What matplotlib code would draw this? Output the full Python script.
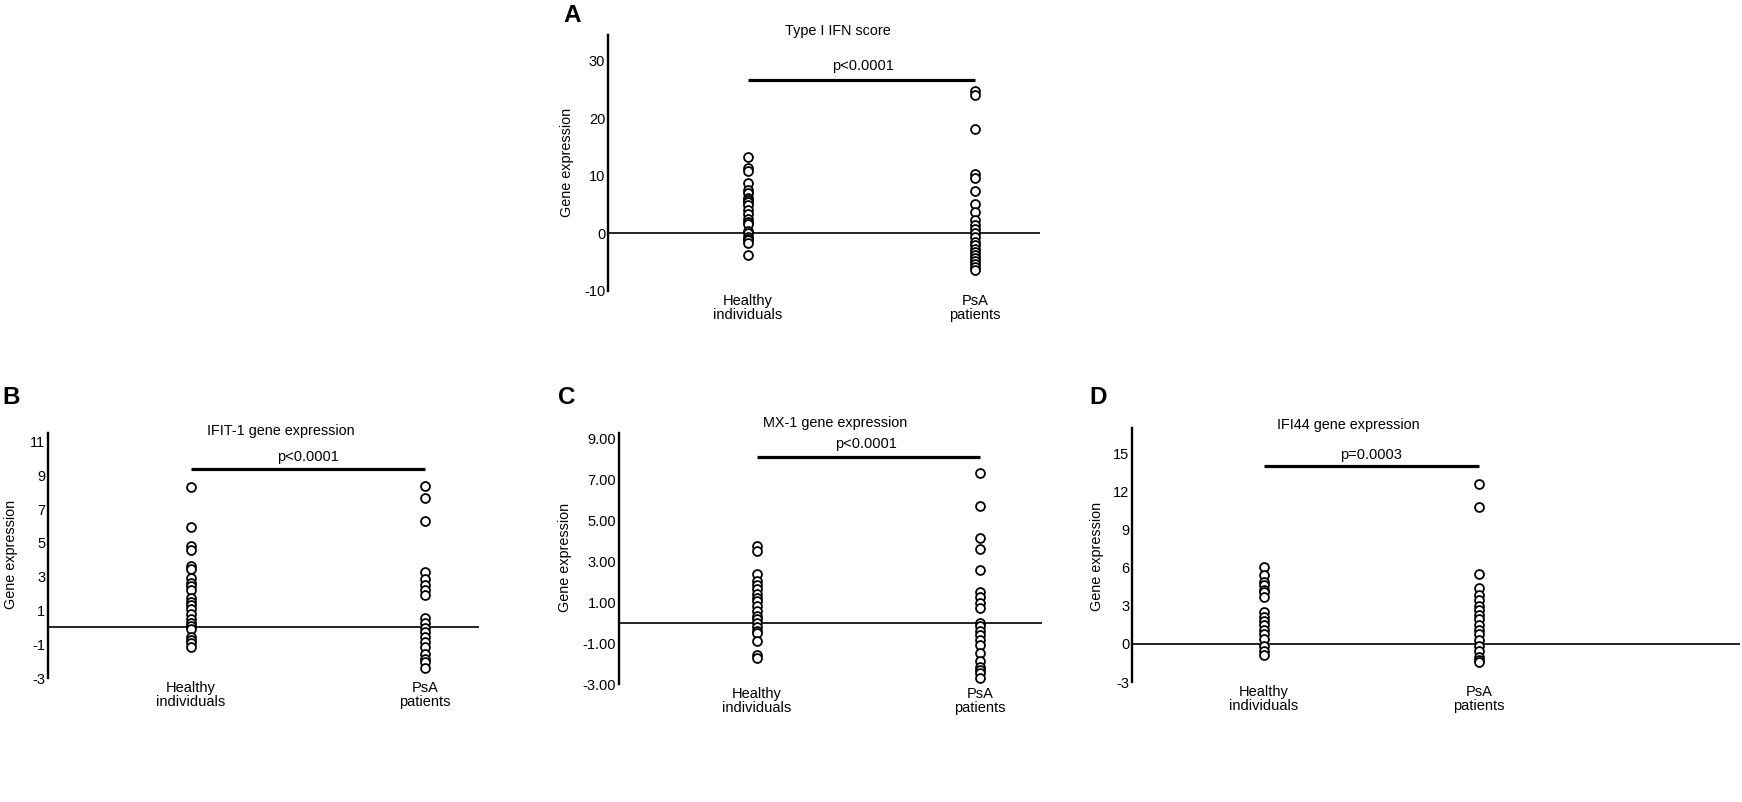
import matplotlib
matplotlib.use("Agg")
import matplotlib.pyplot as plt

plt.rcParams['font.family'] = ['Liberation Sans', 'DejaVu Sans']

W, H = 1742, 802

# Data
groups = ["Healthy\nindividuals", "PsA\npatients"]

a_healthy = [13.3, 11.4, 10.9, 8.8, 7.5, 7.0, 6.2, 5.8, 5.4, 4.9, 4.1, 3.3, 2.5, 2.0,
             1.7, 0.5, 0.0, -0.6, -0.9, -1.2, -1.7, -3.8]
a_psa = [24.8, 24.0, 18.2, 10.4, 9.7, 7.3, 5.1, 3.8, 2.3, 1.5, 0.7, 0.0, -0.6, -1.4,
         -2.0, -2.7, -3.2, -3.8, -4.3, -4.8, -5.3, -5.9, -6.4]

b_healthy = [8.33, 5.93, 4.8, 4.55, 3.6, 3.43, 2.9, 2.63, 2.45, 2.19, 1.74, 1.48, 1.3,
             1.07, 0.77, 0.5, 0.28, 0.05, -0.12, -0.57, -0.75, -0.93, -1.16]
b_psa = [8.38, 7.65, 6.32, 3.29, 2.85, 2.49, 2.19, 1.89, 0.53, 0.23, -0.04, -0.3, -0.57,
         -0.89, -1.19, -1.55, -1.9, -2.08, -2.38]

c_healthy = [3.72, 3.47, 2.36, 2.04, 1.85, 1.63, 1.41, 1.22, 1.04, 0.82, 0.57, 0.31, 0.16,
             -0.01, -0.2, -0.4, -0.5, -0.91, -1.57, -1.75]
c_psa = [7.31, 5.7, 4.11, 3.61, 2.54, 1.51, 1.26, 0.97, 0.70, -0.03, -0.18, -0.40, -0.62,
         -0.84, -1.09, -1.50, -1.86, -2.16, -2.31, -2.45, -2.70]

d_healthy = [6.04, 5.45, 4.9, 4.67, 4.24, 4.08, 3.72, 2.54, 2.11, 1.82, 1.47, 1.11, 0.76,
             0.40, -0.19, -0.55, -0.9]
d_psa = [12.6, 10.78, 5.5, 4.43, 3.84, 3.48, 3.0, 2.65, 2.3, 1.94, 1.47, 1.11, 0.76, 0.28,
         -0.19, -0.59, -1.02, -1.26, -1.45]

titles = ["Type I IFN score", "IFIT-1 gene expression", "MX-1 gene expression",
          "IFI44 gene expression"]
pvalues = ["p<0.0001", "p<0.0001", "p<0.0001", "p=0.0003"]
bar_heights = [26.6, 9.36, 8.06, 14.07]

a_ticks = [30, 20, 10, 0, -10]
b_ticks = [11, 9, 7, 5, 3, 1, -1, -3]
c_ticks = [9, 7, 5, 3, 1, -1, -3]
d_ticks = [15, 12, 9, 6, 3, 0, -3]
a_ticklabels = ["30", "20", "10", "0", "-10"]
b_ticklabels = ["11", "9", "7", "5", "3", "1", "-1", "-3"]
c_ticklabels = ["9.00", "7.00", "5.00", "3.00", "1.00", "-1.00", "-3.00"]
d_ticklabels = ["15", "12", "9", "6", "3", "0", "-3"]

fig = plt.figure(figsize=(W / 100, H / 100), dpi=100)


def px(x, y):
    return x / W, 1 - y / H


def panel(letter, rect, xlim, ylim, healthy, psa, ticks, ticklabels, title, pval, bar,
          title_xy, p_xy, letter_xy, ylab_xy):
    left, top, right, bottom = rect
    ax = fig.add_axes([left / W, 1 - bottom / H, (right - left) / W, (bottom - top) / H])
    ax.set_xlim(xlim)
    ax.set_ylim(ylim)
    for s in ["top", "right", "bottom"]:
        ax.spines[s].set_visible(False)
    ax.spines["left"].set_linewidth(1.7)
    ax.axhline(0, color="black", lw=1.2, zorder=1)

    # open circles for each group
    ax.plot([1] * len(healthy), healthy, "o", ms=6.4, mfc="white", mec="black", mew=1.3,
            zorder=3, clip_on=False)
    ax.plot([2] * len(psa), psa, "o", ms=6.4, mfc="white", mec="black", mew=1.3,
            zorder=3, clip_on=False)

    # significance bar
    ax.plot([1, 2], [bar, bar], color="black", lw=2.3, solid_capstyle="butt")

    ax.set_yticks(ticks)
    ax.set_yticklabels(ticklabels)
    ax.set_xticks([1, 2])
    ax.set_xticklabels(groups, linespacing=1.0)
    ax.tick_params(axis="y", length=0, pad=2, labelsize=10.5)
    ax.tick_params(axis="x", length=0, pad=2, labelsize=10.5)

    fig.text(*px(*title_xy), title, ha="center", va="center", fontsize=10.4)
    fig.text(*px(*p_xy), pval, ha="center", va="center", fontsize=10.5)
    fig.text(*px(*letter_xy), letter, ha="center", va="center", fontsize=17.5,
             fontweight="bold")
    fig.text(*px(*ylab_xy), "Gene expression", ha="center", va="center", fontsize=10.4,
             rotation=90)
    return ax


panel("A", (608, 35, 1040, 291), (0.383, 2.286), (-10, 34.5), a_healthy, a_psa,
      a_ticks, a_ticklabels, titles[0], pvalues[0], bar_heights[0],
      (838, 31), (863, 66), (572, 15), (567, 162))

panel("B", (48, 433, 479, 678), (0.389, 2.23), (-3, 11.5), b_healthy, b_psa,
      b_ticks, b_ticklabels, titles[1], pvalues[1], bar_heights[1],
      (281, 431), (308, 457), (11, 397), (11, 554))

panel("C", (619, 433, 1042, 684), (0.381, 2.278), (-3, 9.25), c_healthy, c_psa,
      c_ticks, c_ticklabels, titles[2], pvalues[2], bar_heights[2],
      (835, 423), (866, 444), (567, 397), (565, 557))

panel("D", (1132, 428, 1740, 682), (0.386, 3.214), (-3, 17.05), d_healthy, d_psa,
      d_ticks, d_ticklabels, titles[3], pvalues[3], bar_heights[3],
      (1348, 425), (1371, 455), (1098, 397), (1097, 556))

fig.savefig("out.png", dpi=100, facecolor="white")
